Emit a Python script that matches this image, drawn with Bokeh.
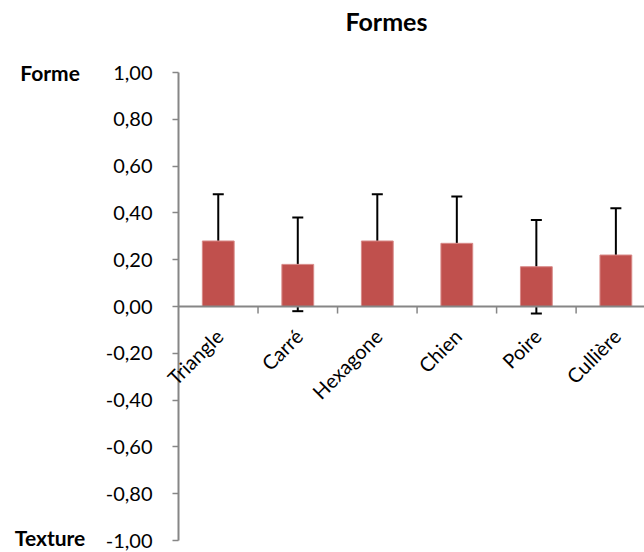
from bokeh.plotting import figure
from bokeh.models import (Range1d, FixedTicker, CustomJSTickFormatter, Span,
                          Whisker, TeeHead, ColumnDataSource)
from bokeh.core.properties import value
from bokeh.embed import file_html
from bokeh.resources import INLINE
import math

# ---- data ----
categories = ["Triangle", "Carré", "Hexagone", "Chien", "Poire", "Cullière"]
means = [0.28, 0.18, 0.28, 0.27, 0.17, 0.22]
errors = [0.20, 0.20, 0.20, 0.20, 0.20, 0.20]
y_ticks = [-1.0, -0.8, -0.6, -0.4, -0.2, 0.0, 0.2, 0.4, 0.6, 0.8, 1.0]
title_text = "Formes"
end_labels = ["Forme", "Texture"]

FONT = "Lato"
BAR = "#C0504D"
AXIS = "#868686"

xs = [i + 0.5 for i in range(len(categories))]
src = ColumnDataSource(dict(
    x=xs, cat=categories, top=means,
    upper=[m + e for m, e in zip(means, errors)],
    lower=[m - e for m, e in zip(means, errors)],
))

p = figure(width=644, height=552, output_backend="svg", toolbar_location=None,
           x_range=Range1d(0, 5.86), y_range=Range1d(-1, 1),
           x_axis_location=None, min_border_left=178, min_border_right=0,
           min_border_top=72, min_border_bottom=12)
p.outline_line_color = None
p.grid.visible = False
p.background_fill_color = "white"

# y axis
ya = p.yaxis[0]
ya.ticker = FixedTicker(ticks=y_ticks)
ya.formatter = CustomJSTickFormatter(code="""
    var t = Math.abs(tick) < 1e-9 ? 0 : tick;
    return t.toFixed(2).replace('.', ',');
""")
ya.axis_line_color = AXIS
ya.axis_line_width = 2
ya.major_tick_line_color = AXIS
ya.major_tick_line_width = 1.5
ya.major_tick_out = 6
ya.major_tick_in = 0
ya.minor_tick_line_color = None
ya.major_label_standoff = 20
ya.major_label_text_font = FONT
ya.major_label_text_font_size = "20px"
ya.major_label_text_color = "#000000"

# bars
p.vbar(x="x", top="top", bottom=0, width=0.4, source=src,
       fill_color=BAR, line_color="#D88A88", line_width=1)

# horizontal category axis at zero
p.add_layout(Span(location=0, dimension="width", line_color=AXIS, line_width=2))
bounds = list(range(1, len(categories) + 1))
p.segment(x0=bounds, y0=[0] * len(bounds), x1=bounds, y1=[-0.03] * len(bounds),
          line_color=AXIS, line_width=1.5)

# error bars
p.add_layout(Whisker(base="x", upper="upper", lower="lower", source=src,
                     line_color="black", line_width=2,
                     upper_head=TeeHead(size=11, line_color="black", line_width=2),
                     lower_head=TeeHead(size=11, line_color="black", line_width=2)))

# category labels (rotated)
p.text(x="x", y=0, text="cat", source=src, angle=math.pi / 4,
       text_align="right", text_baseline="middle", x_offset=1, y_offset=26,
       text_font=value(FONT), text_font_size="20px", text_color="black",
       level="overlay")

# "Forme" / "Texture" at the ends of the value axis
p.text(x=[-1.615, -1.615], y=[y_ticks[-1], y_ticks[0]], text=end_labels,
       y_offset=[0, -3], text_align="center", text_baseline="middle",
       text_font=value(FONT), text_font_style="bold", text_font_size="21px",
       text_color="black", level="overlay")

# chart title (drawn above the frame, unclipped)
p.text(x=[2.615], y=[1.222], text=[title_text], text_align="center",
       text_baseline="alphabetic", text_font=value(FONT), text_font_style="bold",
       text_font_size="25px", text_color="black", level="overlay")

open("out.html", "w").write(file_html(p, INLINE))
